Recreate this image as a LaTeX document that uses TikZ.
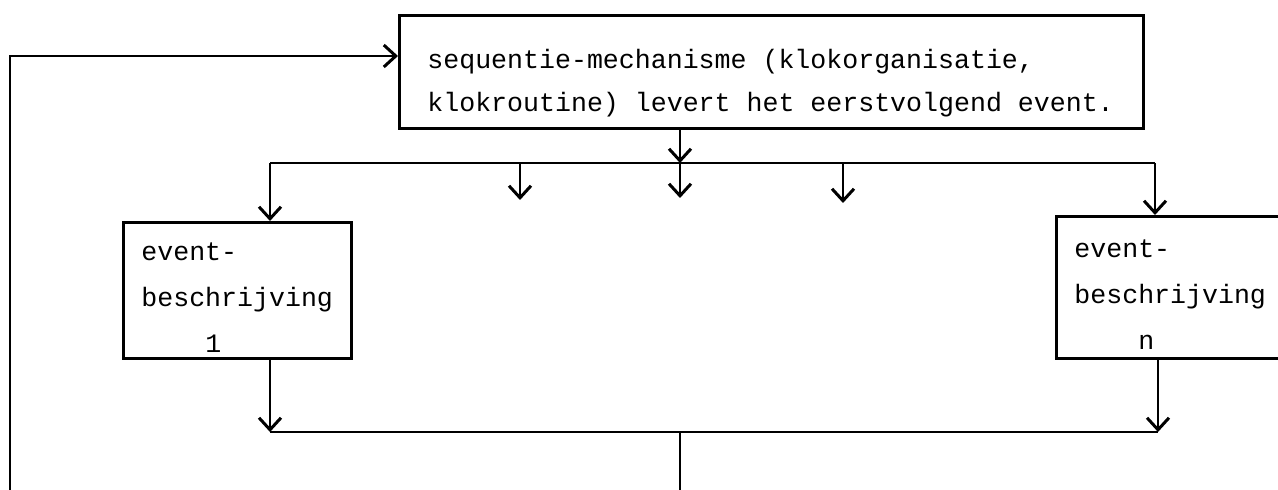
\documentclass[tikz,border=0pt]{standalone}
\usepackage{fontspec}
\setmonofont[WordSpace={1,0,0}]{Liberation Mono}
\usetikzlibrary{arrows.meta}

\tikzset{
  wire/.style={line width=1.4pt},
  flow/.style={wire, -{Straight Barb[length=6pt,width=11pt,line width=1.5pt]}},
  box/.style={draw, wire, anchor=north west, align=left, inner ysep=0pt,
    font=\ttfamily\fontsize{13.3}{23}\selectfont,
    % keep the typewriter spaces as wide as a letter
    execute at begin node={\spaceskip=0.6em\xspaceskip=0.6em\relax}},
}

\begin{document}
\begin{tikzpicture}[x=0.5pt, y=-0.5pt]
\clip (0,0) rectangle (1278,490);

% event list and the event routines
\node[box, text width=344pt, inner xsep=14pt, minimum height=56.5pt,
      font=\ttfamily\fontsize{13.3}{21.5}\selectfont] (seq) at (398,14)
  {\rule{0pt}{21pt}sequentie-mechanisme (klokorganisatie,\\klokroutine) levert het eerstvolgend event.};
\node[box, text width=96pt, inner xsep=9pt, minimum height=68pt] (ev1) at (122,221)
  {\rule{0pt}{16pt}event-\\beschrijving\\\phantom{xxxx}1};
\node[box, text width=120pt, inner xsep=9pt, minimum height=71pt] (evn) at (1055,215)
  {\rule{0pt}{16pt}event-\\beschrijving\\\phantom{xxxx}n};

% bus points
\coordinate (busL) at (270,163);
\coordinate (busM) at (680,163);
\coordinate (busR) at (1155,163);
\coordinate (t1) at (520,200);
\coordinate (t2) at (680,198);
\coordinate (t3) at (843,203);
\coordinate (joinL) at (270,432);
\coordinate (joinM) at (680,432);
\coordinate (joinR) at (1158,432);
\coordinate (loopbot) at (10,490);
\coordinate (loopup) at (10,56);
\coordinate (exit) at (680,490);

% fan out
\draw[flow] (busM |- seq.south) -- (busM);
\draw[wire] (busL) -- (busR);
\draw[flow] (busL) -- (busL |- ev1.north);
\draw[flow] (busR) -- (busR |- evn.north);
\draw[flow] (t1 |- busL) -- (t1);
\draw[flow] (t2 |- busL) -- (t2);
\draw[flow] (t3 |- busL) -- (t3);

% collect
\draw[flow] (joinL |- ev1.south) -- (joinL);
\draw[flow] (joinR |- evn.south) -- (joinR);
\draw[wire] (joinL) -- (joinR);
\draw[wire] (joinM) -- (exit);

% back to the clock
\draw[flow] (loopbot) -- (loopup) -- (loopup -| seq.west);
\end{tikzpicture}
\end{document}
